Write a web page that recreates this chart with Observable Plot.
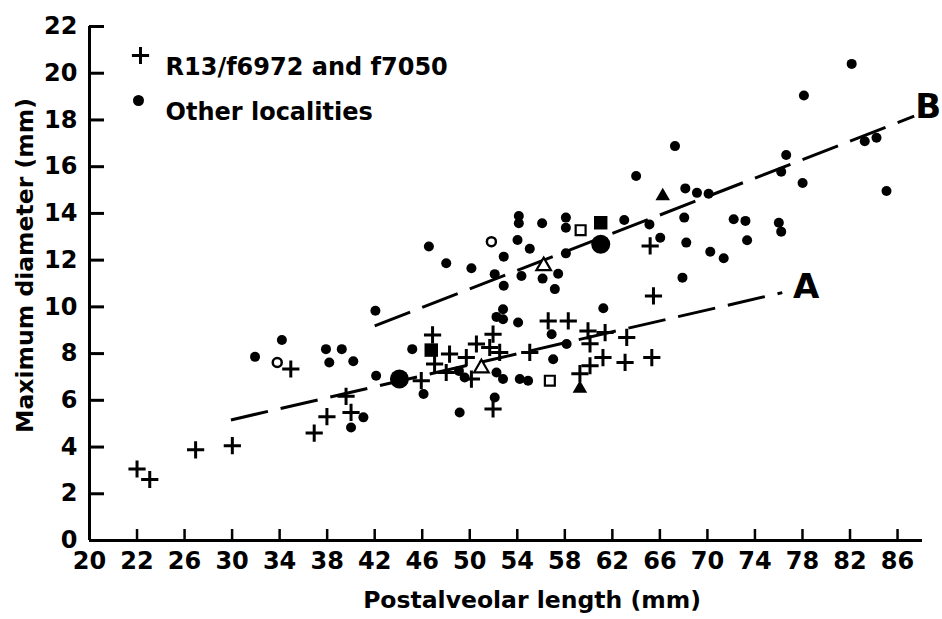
<!DOCTYPE html>
<html>
<head>
<meta charset="utf-8">
<script src="https://cdn.jsdelivr.net/npm/d3@7"></script>
<script src="https://cdn.jsdelivr.net/npm/@observablehq/plot@0.6"></script>
<style>
  html, body { margin: 0; padding: 0; background: #fff; overflow: hidden; }
</style>
</head>
<body>
<div id="chart"></div>
<script>
// ---- axes ----
const xDomain = [18, 88.1];
const yDomain = [0, 22];
const xTickValues = [18, 22, 26, 30, 34, 38, 42, 46, 50, 54, 58, 62, 66, 70, 74, 78, 82, 86];
const xTickLabels = ["20", "22", "26", "30", "34", "38", "42", "46", "50", "54", "58", "62", "66", "70", "74", "78", "82", "86"];
const xTickMarks = [22, 26, 30, 34, 38, 42, 46, 50, 54, 58, 62, 66, 70, 74, 78, 82, 86];
const yTickValues = [0, 2, 4, 6, 8, 10, 12, 14, 16, 18, 20, 22];
const yTickMarks = [2, 4, 6, 8, 10, 12, 14, 16, 18, 20, 22];
const xTitle = "Postalveolar length (mm)";
const yTitle = "Maximum diameter (mm)";
const legendLabels = ["R13/f6972 and f7050", "Other localities"];

// ---- data: [postalveolar length, maximum diameter] ----
const crosses = [
  [22.0, 3.06], [23.07, 2.61], [26.93, 3.88], [30.02, 4.06], [34.94, 7.34], [36.91, 4.60],
  [37.98, 5.30], [39.59, 6.17], [40.01, 5.48], [45.92, 6.84], [46.87, 8.80], [47.04, 7.55],
  [48.02, 7.19], [48.30, 7.98], [49.71, 7.83], [50.56, 8.41], [50.14, 6.91], [51.96, 8.83],
  [51.68, 8.26], [52.52, 8.05], [51.96, 5.63], [55.05, 8.05], [56.60, 9.40], [58.29, 9.40],
  [59.95, 8.97], [61.39, 8.90], [60.12, 8.42], [63.21, 8.69], [61.21, 7.83], [63.07, 7.62],
  [65.32, 7.83], [60.12, 7.48], [59.27, 7.14], [65.18, 12.61], [65.46, 10.47]
];
const dots = [
  [31.93, 7.86], [34.19, 8.58], [37.90, 8.19], [38.18, 7.62], [39.23, 8.19], [40.20, 7.67],
  [40.01, 4.84], [41.05, 5.27], [42.12, 7.05], [42.06, 9.83], [46.56, 12.58], [48.02, 11.87],
  [50.14, 11.65], [52.10, 11.40], [45.16, 8.19], [46.11, 6.27], [49.15, 5.48], [49.09, 7.26],
  [49.57, 6.98], [52.25, 9.57], [52.80, 9.90], [52.80, 9.47], [52.25, 7.19], [52.80, 6.91],
  [52.10, 6.12], [54.07, 9.33], [54.21, 6.91], [54.91, 6.84], [56.89, 8.83], [58.15, 8.41],
  [57.02, 7.76], [61.24, 9.94], [54.13, 13.89], [54.13, 13.58], [56.09, 13.58], [58.09, 13.82],
  [58.09, 13.39], [54.02, 12.86], [55.05, 12.49], [52.86, 12.15], [58.09, 12.29], [54.35, 11.32],
  [56.13, 11.21], [57.44, 11.42], [52.86, 10.90], [57.16, 10.76], [63.00, 13.72], [65.12, 13.53],
  [66.03, 12.96], [67.90, 11.25], [64.00, 15.60], [68.14, 15.07], [69.12, 14.88], [70.10, 14.84],
  [68.05, 13.82], [72.21, 13.75], [73.20, 13.68], [76.01, 13.60], [76.21, 13.22], [68.22, 12.75],
  [73.34, 12.85], [70.24, 12.36], [71.37, 12.08], [76.63, 16.50], [76.21, 15.78], [78.01, 15.30],
  [82.14, 20.40], [78.12, 19.05], [67.27, 16.88], [83.24, 17.09], [84.23, 17.24], [85.07, 14.96]
];
const bigDots = [[44.08, 6.91], [61.02, 12.68]];
const openCircles = [[33.80, 7.62], [51.82, 12.79]];
const openSquares = [[59.33, 13.28], [56.74, 6.84]];
const filledSquares = [[46.76, 8.15], [61.02, 13.60]];
const openTriangles = [[50.98, 7.38], [56.22, 11.75]];
const filledTriangles = [[66.24, 14.74], [59.27, 6.50]];

// ---- regression lines ----
const lineNames = ["A", "B"];
const lineStartX = [29.9, 42.0];
const lineStartY = [5.16, 9.19];
const lineEndX = [76.3, 87.4];
const lineEndY = [10.61, 18.16];

const W = 942, H = 619, ML = 89, MR = 20, MT = 26, MB = 79;
const frameW = W - ML - MR, frameH = H - MT - MB;
// tick-mark lengths in pixels, converted to data units of each scale
const yTickLen = (xDomain[1] - xDomain[0]) * 15 / frameW;
const xTickLen = (yDomain[1] - yDomain[0]) * 11 / frameH;
const px = d => d[0], py = d => d[1];
const endX = d => lineEndX[lineNames.indexOf(d)];
const endY = d => lineEndY[lineNames.indexOf(d)];

const chart = Plot.plot({
  width: W,
  height: H,
  marginLeft: ML,
  marginRight: MR,
  marginTop: MT,
  marginBottom: MB,
  style: {
    fontFamily: "'DejaVu Sans', sans-serif",
    fontWeight: "bold",
    fontSize: "24px",
    background: "white",
    color: "black"
  },
  x: {domain: xDomain},
  y: {domain: yDomain},
  marks: [
    Plot.axisX(xTickValues, {
      tickSize: 0, tickPadding: 11, label: null,
      tickFormat: d => xTickLabels[xTickValues.indexOf(d)]
    }),
    Plot.axisY(yTickValues, {tickSize: 0, tickPadding: 12, label: null}),
    // inward tick marks
    Plot.ruleY(yTickMarks, {y: d => d, x1: xDomain[0], x2: xDomain[0] + yTickLen, stroke: "black", strokeWidth: 3}),
    Plot.ruleX(xTickMarks, {x: d => d, y1: yDomain[0], y2: yDomain[0] + xTickLen, stroke: "black", strokeWidth: 2.5}),
    // axis lines
    Plot.ruleY([yDomain[0]], {x1: xDomain[0], x2: xDomain[1], stroke: "black", strokeWidth: 3}),
    Plot.ruleX([xDomain[0]], {y1: yDomain[0], y2: yDomain[1], stroke: "black", strokeWidth: 3}),
    Plot.text([xTitle], {frameAnchor: "bottom", textAnchor: "middle", dx: 26, dy: 67, fontSize: 23.5}),
    Plot.text([yTitle], {frameAnchor: "left", textAnchor: "middle", rotate: -90, dx: -64, dy: -18, fontSize: 23.5}),

    Plot.link(lineNames, {
      x1: (d, i) => lineStartX[i], y1: (d, i) => lineStartY[i],
      x2: (d, i) => lineEndX[i], y2: (d, i) => lineEndY[i],
      stroke: "black", strokeWidth: 3, strokeDasharray: "38,13"
    }),
    Plot.text([lineNames[0]], {x: endX, y: endY, text: d => d, dx: 24, dy: -6, fontSize: 34}),
    Plot.text([lineNames[1]], {x: endX, y: endY, text: d => d, dx: 14, dy: -9, fontSize: 34}),

    Plot.dot(dots, {x: px, y: py, r: 5, fill: "black"}),
    Plot.dot(bigDots, {x: px, y: py, r: 9.5, fill: "black"}),
    Plot.dot(filledSquares, {x: px, y: py, symbol: "square", r: 7.6, fill: "black"}),
    Plot.dot(filledTriangles, {x: px, y: py, symbol: "triangle", r: 5.4, fill: "black"}),
    Plot.dot(openCircles, {x: px, y: py, r: 4.5, fill: "white", stroke: "black", strokeWidth: 2.5}),
    Plot.dot(openSquares, {x: px, y: py, symbol: "square", r: 5.6, fill: "white", stroke: "black", strokeWidth: 2.2}),
    Plot.dot(openTriangles, {x: px, y: py, symbol: "triangle", r: 5.4, fill: "white", stroke: "black", strokeWidth: 2.2}),
    Plot.dot(crosses, {x: px, y: py, symbol: "plus", r: 5.6, stroke: "black", strokeWidth: 3}),

    // legend
    Plot.dot([legendLabels[0]], {frameAnchor: "top-left", dx: 51, dy: 29, symbol: "plus", r: 5.6, stroke: "black", strokeWidth: 3}),
    Plot.dot([legendLabels[1]], {frameAnchor: "top-left", dx: 49, dy: 74, r: 5.5, fill: "black"}),
    Plot.text([legendLabels[0]], {frameAnchor: "top-left", dx: 76, dy: 31, textAnchor: "start", text: d => d, fontSize: 24}),
    Plot.text([legendLabels[1]], {frameAnchor: "top-left", dx: 76, dy: 76, textAnchor: "start", text: d => d, fontSize: 24})
  ]
});
document.getElementById("chart").append(chart);
</script>
</body>
</html>
